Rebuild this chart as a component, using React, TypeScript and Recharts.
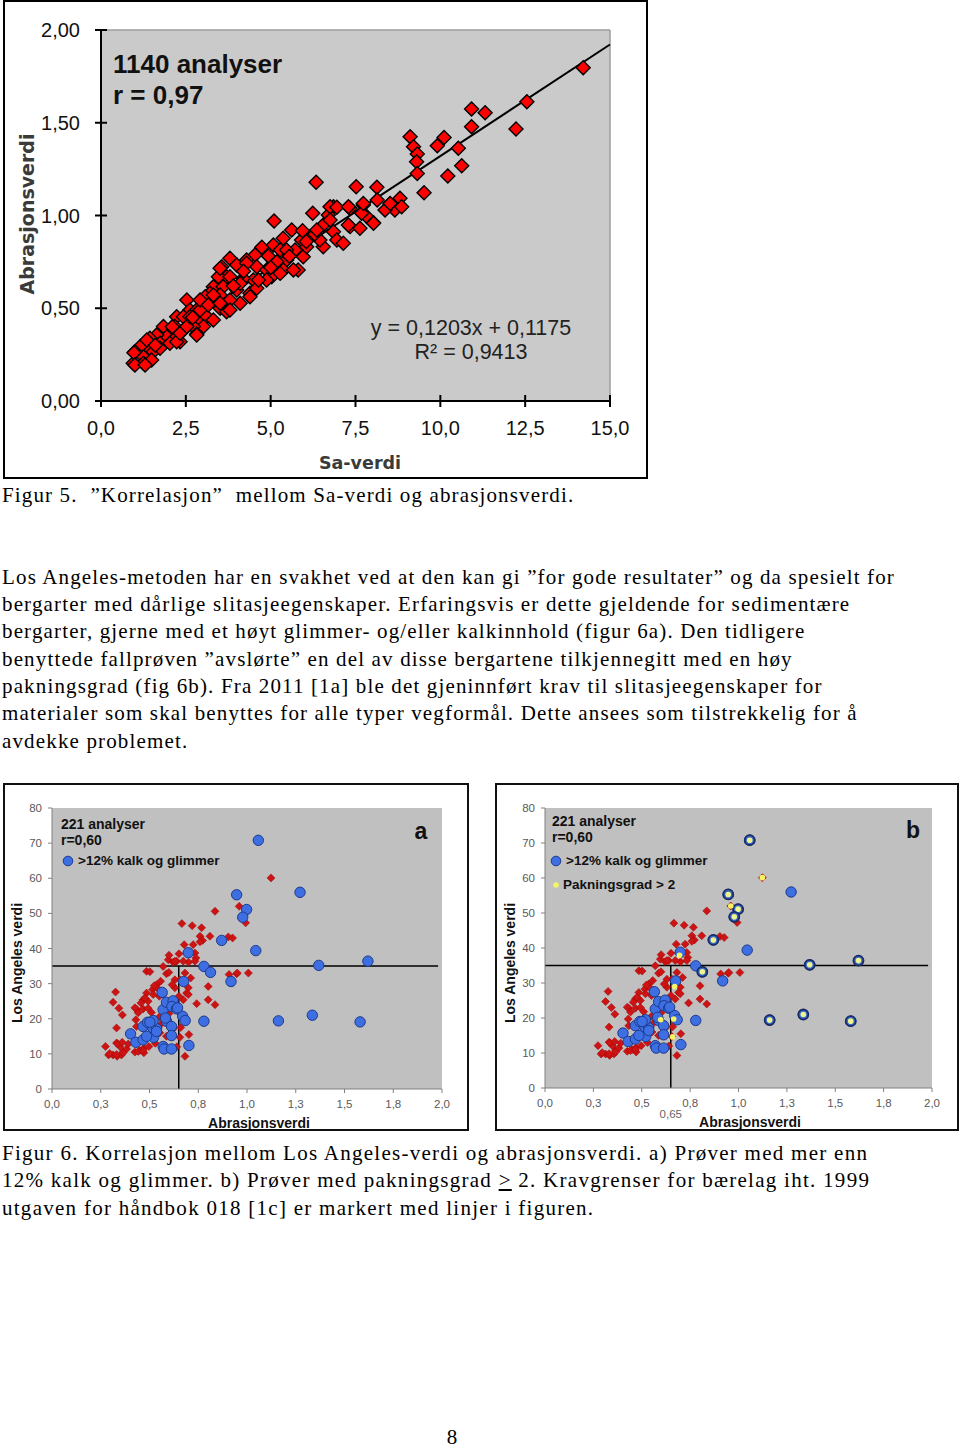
import React from 'react';
import { ScatterChart, Scatter, XAxis, YAxis, CartesianGrid, ReferenceLine } from 'recharts';

// ---------- Figure 5 data: Sa-verdi (x) vs abrasjonsverdi (y) ----------
const saAbrHigh: [number, number][] = [
  [14.21, 1.797], [12.55, 1.613], [12.23, 1.466], [10.92, 1.574], [11.32, 1.554], [10.92, 1.479],
  [10.53, 1.362], [10.63, 1.268], [10.22, 1.213], [9.91, 1.376], [10.11, 1.421], [9.11, 1.425],
  [9.21, 1.371], [9.32, 1.332], [9.3, 1.29], [9.32, 1.227], [9.52, 1.123], [8.81, 1.093],
  [8.13, 1.152], [7.52, 1.155], [8.14, 1.084], [8.52, 1.062], [8.66, 1.03], [8.86, 1.047],
  [8.37, 1.03], [7.73, 1.057], [7.83, 0.994], [8.03, 0.961], [7.68, 1.012], [7.34, 1.039],
  [6.85, 1.047], [6.7, 1.003], [7.34, 0.94], [7.63, 0.931], [6.55, 0.949], [6.85, 0.913],
  [6.34, 1.179], [5.1, 0.97], [6.24, 1.012], [5.62, 0.922], [5.94, 0.918], [6.75, 1.047],
  [6.95, 1.044], [7.29, 1.047], [7.29, 0.949], [6.75, 0.976], [6.36, 0.922], [6.95, 0.868],
  [7.14, 0.85], [7.73, 1.065], [8.52, 1.065], [8.03, 0.958],
];
const saAbrMid: [number, number][] = [
  [5.37, 0.877], [5.91, 0.868], [6.16, 0.886], [6.55, 0.832], [4.74, 0.829], [5.08, 0.841],
  [5.28, 0.814], [5.72, 0.814], [5.96, 0.778], [5.47, 0.76], [5.18, 0.751], [4.93, 0.782],
  [4.54, 0.787], [4.29, 0.76], [3.8, 0.769], [3.56, 0.724], [4.0, 0.733], [4.59, 0.724],
  [4.88, 0.706], [5.37, 0.706], [5.81, 0.706], [5.03, 0.67], [4.49, 0.652], [4.19, 0.661],
  [3.7, 0.67], [3.46, 0.67], [3.31, 0.616], [3.6, 0.616], [4.0, 0.598], [4.39, 0.581],
  [4.59, 0.608], [4.1, 0.527], [3.8, 0.544], [3.51, 0.571], [3.21, 0.581], [3.07, 0.562],
  [2.92, 0.544], [3.16, 0.517], [3.51, 0.5], [3.7, 0.481], [3.8, 0.491], [3.51, 0.527],
  [3.31, 0.571], [4.39, 0.562], [3.8, 0.67], [3.51, 0.715], [4.29, 0.742], [4.88, 0.652],
  [5.28, 0.688], [5.67, 0.706], [5.47, 0.814], [6.06, 0.832], [6.45, 0.868], [4.64, 0.652],
  [4.1, 0.634], [5.0, 0.72], [5.55, 0.78], [6.05, 0.86], [6.3, 0.9], [4.2, 0.7], [3.9, 0.62],
];
const saAbrLow: [number, number][] = [
  [2.53, 0.544], [2.62, 0.491], [2.82, 0.491], [2.23, 0.454], [2.43, 0.454], [2.82, 0.437],
  [3.12, 0.454], [3.31, 0.437], [3.02, 0.401], [2.72, 0.401], [2.43, 0.383], [2.03, 0.383],
  [1.84, 0.401], [1.94, 0.347], [2.23, 0.347], [2.33, 0.32], [2.82, 0.361], [1.64, 0.356],
  [1.44, 0.338], [1.74, 0.311], [1.35, 0.284], [1.15, 0.293], [1.54, 0.266], [1.25, 0.239],
  [1.0, 0.266], [0.95, 0.203], [1.25, 0.203], [1.49, 0.221], [2.03, 0.311], [2.18, 0.401],
  [0.97, 0.26], [1.0, 0.194], [1.3, 0.194], [1.35, 0.329], [1.74, 0.284], [2.23, 0.32],
  [2.33, 0.365], [2.82, 0.356], [2.53, 0.401], [2.92, 0.491], [2.62, 0.454], [2.7, 0.45],
  [2.1, 0.4], [1.6, 0.3],
];
const trendEnds = [{ x: 1.0, y: 0.238 }, { x: 15, y: 1.922 }];
const topXTicks = [0, 2.5, 5, 7.5, 10, 12.5, 15];
const topXLabels = ['0,0', '2,5', '5,0', '7,5', '10,0', '12,5', '15,0'];
const topYTicks = [0, 0.5, 1, 1.5, 2];
const topYLabels = ['0,00', '0,50', '1,00', '1,50', '2,00'];

// ---------- Figure 6 data: abrasjonsverdi (x) vs Los Angeles verdi (y) ----------
const laRed: [number, number][] = [
  [0.274, 12.1], [0.29, 9.7], [0.313, 9.7], [0.334, 9.3], [0.356, 9.7], [0.365, 10.7], [0.331, 13.1],
  [0.348, 12.1], [0.326, 27.6], [0.313, 24.7], [0.343, 23.0], [0.361, 21.1], [0.331, 17.4], [0.382, 11.4],
  [0.391, 12.8], [0.433, 22.8], [0.43, 19.7], [0.433, 17.8], [0.425, 10.5], [0.45, 11.0], [0.471, 11.6],
  [0.471, 10.3], [0.497, 12.1], [0.485, 33.5], [0.502, 33.4], [0.485, 27.3], [0.467, 25.4], [0.493, 25.0],
  [0.467, 22.8], [0.493, 23.0], [0.51, 21.8], [0.516, 28.3], [0.536, 29.7], [0.545, 28.5], [0.55, 26.4],
  [0.557, 30.7], [0.57, 34.9], [0.587, 32.8], [0.596, 36.8], [0.6, 38.1], [0.621, 36.1], [0.639, 36.4],
  [0.651, 38.5], [0.666, 47.1], [0.678, 41.1], [0.69, 38.7], [0.7, 36.1], [0.719, 46.5], [0.733, 38.7],
  [0.738, 37.3], [0.724, 41.1], [0.759, 43.5], [0.772, 42.3], [0.767, 45.9], [0.81, 43.5], [0.836, 50.6],
  [0.711, 31.6], [0.699, 28.8], [0.69, 27.3], [0.673, 25.4], [0.651, 26.4], [0.63, 28.8], [0.656, 31.1],
  [0.682, 33.0], [0.742, 24.3], [0.801, 29.2], [0.801, 25.4], [0.836, 24.0], [0.702, 15.5], [0.682, 9.3],
  [0.656, 14.7], [0.904, 43.3], [0.947, 32.8], [1.123, 60.1], [0.96, 52.0], [0.993, 47.3], [0.926, 43.0],
  [0.95, 33.0], [1.007, 33.0], [0.759, 41.9], [0.63, 36.4], [0.673, 36.4], [0.733, 36.4], [0.599, 33.2],
  [0.63, 31.1], [0.616, 29.7], [0.524, 29.4], [0.57, 26.9], [0.519, 26.9], [0.699, 26.9], [0.425, 23.1],
  [0.456, 24.5], [0.476, 25.9], [0.442, 21.7], [0.296, 10.1], [0.331, 9.8], [0.365, 10.3], [0.336, 12.9],
  [0.36, 13.3], [0.442, 10.7], [0.467, 11.0], [0.408, 16.0], [0.553, 16.0], [0.587, 15.0], [0.908, 32.6],
  [0.55, 20.5], [0.6, 21.5], [0.62, 17.0], [0.53, 13.0], [0.56, 18.5], [0.65, 22.0], [0.64, 12.0], [0.66, 17.5],
];
const laBlue: [number, number][] = [
  [1.058, 70.8], [0.947, 55.3], [1.272, 56.0], [0.998, 51.1], [0.978, 48.9], [1.045, 39.4], [1.368, 35.2],
  [1.62, 36.4], [0.918, 30.6], [1.161, 19.4], [1.335, 21.0], [1.58, 19.1], [0.87, 42.3], [0.699, 38.8],
  [0.779, 34.9], [0.813, 33.2], [0.675, 30.6], [0.565, 27.5], [0.779, 19.3], [0.702, 12.4], [0.403, 15.7],
  [0.43, 13.3], [0.467, 17.8], [0.49, 19.0], [0.467, 14.0], [0.517, 17.4], [0.536, 17.2], [0.521, 14.7],
  [0.57, 22.6], [0.587, 24.7], [0.621, 25.1], [0.615, 23.5], [0.639, 22.8], [0.587, 19.3], [0.613, 17.8],
  [0.613, 15.2], [0.57, 12.1], [0.575, 11.4], [0.613, 11.4], [0.67, 20.7], [0.683, 19.5], [0.519, 19.5],
  [0.485, 15.0], [0.644, 23.1], [0.582, 20.2], [0.502, 19.0], [0.536, 16.4],
];
const pakRing: [number, number][] = [
  [1.058, 70.8], [0.947, 55.3], [0.998, 51.1], [0.978, 48.9], [1.368, 35.2], [1.62, 36.4],
  [1.161, 19.4], [1.335, 21.0], [1.58, 19.1], [0.87, 42.3], [0.813, 33.2],
];
const pakDot: [number, number][] = [
  [1.123, 60.1], [0.96, 52.0], [0.695, 37.9], [0.67, 29.0], [0.598, 19.5], [0.665, 19.7], [0.66, 14.6],
];
const limitH = [{ x: 0, y: 35 }, { x: 1.98, y: 35 }];
const limitV = [{ x: 0.65, y: 0 }, { x: 0.65, y: 35 }];
const laXTicks = [0, 0.25, 0.5, 0.75, 1, 1.25, 1.5, 1.75, 2];
const laXLabels = ['0,0', '0,3', '0,5', '0,8', '1,0', '1,3', '1,5', '1,8', '2,0'];
const laYTicks = [0, 10, 20, 30, 40, 50, 60, 70, 80];
const laYLabels = ['0', '10', '20', '30', '40', '50', '60', '70', '80'];
const extraTickValue = 0.65;
const extraTickLabel = '0,65';

const toXY = (a: [number, number][]) => a.map(([x, y]) => ({ x, y }));
const SANS = '"Liberation Sans", Arial, sans-serif';
const SERIF = '"Liberation Serif", "Times New Roman", serif';

// ---------- shapes ----------
const TopDiamond = (p: any) => {
  const { cx, cy } = p;
  if (cx == null || cy == null) return <g />;
  const r = 7;
  return <polygon points={`${cx},${cy - r} ${cx + r},${cy} ${cx},${cy + r} ${cx - r},${cy}`} fill="#ff0000" stroke="#000" strokeWidth={1.4} />;
};
const RedDiamond = (p: any) => {
  const { cx, cy } = p;
  if (cx == null || cy == null) return <g />;
  const r = 4;
  return <polygon points={`${cx},${cy - r} ${cx + r},${cy} ${cx},${cy + r} ${cx - r},${cy}`} fill="#cc1414" stroke="#a00000" strokeWidth={0.5} />;
};
const BlueCircle = (p: any) => {
  const { cx, cy } = p;
  if (cx == null || cy == null) return <g />;
  return <circle cx={cx} cy={cy} r={5.2} fill="#3e6fe2" stroke="#1d3a8c" strokeWidth={1} />;
};
const YellowRing = (p: any) => {
  const { cx, cy } = p;
  if (cx == null || cy == null) return <g />;
  return (
    <g>
      <circle cx={cx} cy={cy} r={5.0} fill="#3a68c8" stroke="#1c2c66" strokeWidth={1.8} />
      <circle cx={cx} cy={cy} r={2.8} fill="#eef58c" />
    </g>
  );
};
const YellowDot = (p: any) => {
  const { cx, cy } = p;
  if (cx == null || cy == null) return <g />;
  return <circle cx={cx} cy={cy} r={2.8} fill="#f4f466" />;
};

// ---------- ticks ----------
const TopXTick = (p: any) => {
  const { x, y, payload } = p;
  const i = topXTicks.indexOf(payload.value);
  return (
    <g>
      <line x1={x} x2={x} y1={y - 6} y2={y + 6} stroke="#000" strokeWidth={2} />
      <text x={x} y={y + 27} textAnchor="middle" dominantBaseline="central" fontSize={20} fontFamily={SANS} fill="#111">{topXLabels[i]}</text>
    </g>
  );
};
const TopYTick = (p: any) => {
  const { x, y, payload } = p;
  const i = topYTicks.indexOf(payload.value);
  return (
    <g>
      <line x1={x - 6} x2={x + 6} y1={y} y2={y} stroke="#000" strokeWidth={2} />
      <text x={x - 21} y={y} textAnchor="end" dominantBaseline="central" fontSize={20} fontFamily={SANS} fill="#111">{topYLabels[i]}</text>
    </g>
  );
};
const LAXTick = (p: any) => {
  const { x, y, payload } = p;
  if (payload.value === extraTickValue) {
    return <text x={x} y={y + 26} textAnchor="middle" dominantBaseline="central" fontSize={11.5} fontFamily={SANS} fill="#666">{extraTickLabel}</text>;
  }
  const i = laXTicks.indexOf(payload.value);
  return (
    <g>
      <line x1={x} x2={x} y1={y} y2={y + 4} stroke="#808080" />
      <text x={x} y={y + 15} textAnchor="middle" dominantBaseline="central" fontSize={11.5} fontFamily={SANS} fill="#5a5a5a">{laXLabels[i]}</text>
    </g>
  );
};
const LAYTick = (p: any) => {
  const { x, y, payload } = p;
  const i = laYTicks.indexOf(payload.value);
  return (
    <g>
      <line x1={x - 4} x2={x} y1={y} y2={y} stroke="#808080" />
      <text x={x - 10} y={y} textAnchor="end" dominantBaseline="central" fontSize={11.5} fontFamily={SANS} fill="#5a5a5a">{laYLabels[i]}</text>
    </g>
  );
};

// ---------- text helper ----------
const T = ({ x, y, children, style, center }: any) => (
  <div style={{ position: 'absolute', left: x, top: y - 12, height: 24, lineHeight: '24px', whiteSpace: 'pre', transform: center ? 'translateX(-50%)' : undefined, ...style }}>{children}</div>
);

function TopChart() {
  return (
    <>
      <div style={{ position: 'absolute', left: 3, top: 0, width: 645, height: 479, border: '2px solid #000', boxSizing: 'border-box', background: '#fff' }} />
      <div style={{ position: 'absolute', left: 4, top: 0 }}>
        <ScatterChart width={642} height={479} margin={{ top: 30, right: 36, bottom: 0, left: 0 }}>
          <CartesianGrid horizontal={false} vertical={false} fill="#cacaca" fillOpacity={1} stroke="none" />
          <ReferenceLine y={2} stroke="#9c9c9c" strokeWidth={1.5} />
          <ReferenceLine x={15} stroke="#9c9c9c" strokeWidth={1.5} />
          <XAxis type="number" dataKey="x" domain={[0, 15]} ticks={topXTicks} interval={0} tickSize={0} tickMargin={0} tickLine={false} axisLine={{ stroke: '#000', strokeWidth: 2 }} tick={TopXTick} height={78} allowDataOverflow />
          <YAxis type="number" dataKey="y" domain={[0, 2]} ticks={topYTicks} interval={0} tickSize={0} tickMargin={0} tickLine={false} axisLine={{ stroke: '#000', strokeWidth: 2 }} tick={TopYTick} width={97} allowDataOverflow />
          <Scatter data={toXY(saAbrLow)} shape={TopDiamond} isAnimationActive={false} />
          <Scatter data={toXY(saAbrMid)} shape={TopDiamond} isAnimationActive={false} />
          <Scatter data={toXY(saAbrHigh)} shape={TopDiamond} isAnimationActive={false} />
          <ReferenceLine segment={trendEnds} stroke="#000" strokeWidth={2} />
        </ScatterChart>
      </div>
      <T x={113} y={64} style={{ fontFamily: SANS, fontWeight: 700, fontSize: 26, color: '#111' }}>1140 analyser</T>
      <T x={113} y={95} style={{ fontFamily: SANS, fontWeight: 700, fontSize: 26, color: '#111' }}>r = 0,97</T>
      <T x={471} y={328} center style={{ fontFamily: SANS, fontSize: 21.5, color: '#222' }}>y = 0,1203x + 0,1175</T>
      <T x={471} y={352} center style={{ fontFamily: SANS, fontSize: 21.5, color: '#222' }}>R² = 0,9413</T>
      <div style={{ position: 'absolute', left: 27, top: 214, transform: 'translate(-50%,-50%) rotate(-90deg)', whiteSpace: 'nowrap', fontFamily: '"DejaVu Sans", Verdana, sans-serif', fontWeight: 700, fontSize: 19, color: '#3a3a3a', lineHeight: '22px' }}>Abrasjonsverdi</div>
      <T x={360} y={463} center style={{ fontFamily: '"DejaVu Sans", Verdana, sans-serif', fontWeight: 700, fontSize: 17.5, color: '#3a3a3a' }}>Sa-verdi</T>
    </>
  );
}

function LAChart({ left, width, xAxisH, withPak }: any) {
  const ticks = withPak ? [...laXTicks, extraTickValue] : laXTicks;
  return (
    <div style={{ position: 'absolute', left, top: 783 }}>
      <ScatterChart width={width} height={348} margin={{ top: 25, right: 25, bottom: 0, left: 0 }}>
        <CartesianGrid horizontal={false} vertical={false} fill="#c0c0c0" fillOpacity={1} stroke="none" />
        <XAxis type="number" dataKey="x" domain={[0, 2]} ticks={ticks} interval={0} tickSize={0} tickMargin={0} tickLine={false} axisLine={{ stroke: '#808080' }} tick={LAXTick} height={xAxisH} allowDataOverflow />
        <YAxis type="number" dataKey="y" domain={[0, 80]} ticks={laYTicks} interval={0} tickSize={0} tickMargin={0} tickLine={false} axisLine={{ stroke: '#808080' }} tick={LAYTick} width={48} allowDataOverflow />
        <Scatter data={toXY(laRed)} shape={RedDiamond} isAnimationActive={false} />
        <Scatter data={toXY(laBlue)} shape={BlueCircle} isAnimationActive={false} />
        {withPak && <Scatter data={toXY(pakRing)} shape={YellowRing} isAnimationActive={false} />}
        {withPak && <Scatter data={toXY(pakDot)} shape={YellowDot} isAnimationActive={false} />}
        <ReferenceLine segment={limitH} stroke="#000" strokeWidth={1.5} />
        <ReferenceLine segment={limitV} stroke="#000" strokeWidth={1.5} />
      </ScatterChart>
    </div>
  );
}

const lblStyle = { fontFamily: SANS, fontWeight: 700, fontSize: 14, color: '#111' };
const titleStyle = { fontFamily: SANS, fontWeight: 700, fontSize: 14, color: '#111' };

function Fig6() {
  return (
    <>
      <div style={{ position: 'absolute', left: 3, top: 783, width: 466, height: 348, border: '2px solid #111', boxSizing: 'border-box', background: '#fff' }} />
      <div style={{ position: 'absolute', left: 495, top: 783, width: 464, height: 348, border: '2px solid #111', boxSizing: 'border-box', background: '#fff' }} />
      <LAChart left={4} width={463} xAxisH={42} withPak={false} />
      <LAChart left={497} width={460} xAxisH={43} withPak={true} />
      {/* chart a texts */}
      <T x={61} y={824} style={lblStyle}>221 analyser</T>
      <T x={61} y={840} style={lblStyle}>r=0,60</T>
      <svg style={{ position: 'absolute', left: 62, top: 855 }} width={12} height={12}><circle cx={6} cy={6} r={4.8} fill="#3e6fe2" stroke="#1d3a8c" /></svg>
      <T x={78} y={861} style={{ ...lblStyle, fontSize: 13.5 }}>&gt;12% kalk og glimmer</T>
      <T x={421} y={831} center style={{ fontFamily: SANS, fontWeight: 700, fontSize: 23, color: '#111' }}>a</T>
      <T x={259} y={1123} center style={titleStyle}>Abrasjonsverdi</T>
      <div style={{ position: 'absolute', left: 17, top: 963, transform: 'translate(-50%,-50%) rotate(-90deg)', whiteSpace: 'nowrap', lineHeight: '18px', ...titleStyle }}>Los Angeles verdi</div>
      {/* chart b texts */}
      <T x={552} y={821} style={lblStyle}>221 analyser</T>
      <T x={552} y={837} style={lblStyle}>r=0,60</T>
      <svg style={{ position: 'absolute', left: 550, top: 855 }} width={12} height={12}><circle cx={6} cy={6} r={4.8} fill="#3e6fe2" stroke="#1d3a8c" /></svg>
      <T x={566} y={861} style={{ ...lblStyle, fontSize: 13.5 }}>&gt;12% kalk og glimmer</T>
      <svg style={{ position: 'absolute', left: 550, top: 879 }} width={12} height={12}><circle cx={6} cy={6} r={2.8} fill="#f4f466" /></svg>
      <T x={563} y={885} style={{ ...lblStyle, fontSize: 13.5 }}>Pakningsgrad &gt; 2</T>
      <T x={913} y={830} center style={{ fontFamily: SANS, fontWeight: 700, fontSize: 23, color: '#111' }}>b</T>
      <T x={750} y={1122} center style={titleStyle}>Abrasjonsverdi</T>
      <div style={{ position: 'absolute', left: 510, top: 963, transform: 'translate(-50%,-50%) rotate(-90deg)', whiteSpace: 'nowrap', lineHeight: '18px', ...titleStyle }}>Los Angeles verdi</div>
    </>
  );
}

const bodyLines = [
  'Los Angeles-metoden har en svakhet ved at den kan gi ”for gode resultater” og da spesielt for',
  'bergarter med dårlige slitasjeegenskaper. Erfaringsvis er dette gjeldende for sedimentære',
  'bergarter, gjerne med et høyt glimmer- og/eller kalkinnhold (figur 6a). Den tidligere',
  'benyttede fallprøven ”avslørte” en del av disse bergartene tilkjennegitt med en høy',
  'pakningsgrad (fig 6b). Fra 2011 [1a] ble det gjeninnført krav til slitasjeegenskaper for',
  'materialer som skal benyttes for alle typer vegformål. Dette ansees som tilstrekkelig for å',
  'avdekke problemet.',
];

export default function App() {
  const serif = { fontFamily: SERIF, fontSize: 21, color: '#000' };
  return (
    <div style={{ position: 'absolute', left: 0, top: 0, width: 960, height: 1448, background: '#fff', overflow: 'hidden' }}>
      <TopChart />
      <T x={2} y={495} style={{ ...serif, letterSpacing: 1.14 }}>Figur 5.  ”Korrelasjon”  mellom Sa-verdi og abrasjonsverdi.</T>
      <div style={{ position: 'absolute', left: 2, top: 563.5, lineHeight: '27.4px', ...serif, letterSpacing: 1.15 }}>
        {bodyLines.map((l, i) => <div key={i} style={{ whiteSpace: 'pre', height: 27.4 }}>{l}</div>)}
      </div>
      <Fig6 />
      <div style={{ position: 'absolute', left: 2, top: 1139.5, lineHeight: '27.5px', ...serif, letterSpacing: 1.27 }}>
        <div style={{ whiteSpace: 'pre' }}>Figur 6. Korrelasjon mellom Los Angeles-verdi og abrasjonsverdi. a) Prøver med mer enn</div>
        <div style={{ whiteSpace: 'pre' }}>12% kalk og glimmer. b) Prøver med pakningsgrad <u>&gt;</u> 2. Kravgrenser for bærelag iht. 1999</div>
        <div style={{ whiteSpace: 'pre' }}>utgaven for håndbok 018 [1c] er markert med linjer i figuren.</div>
      </div>
      <T x={452} y={1437} center style={serif}>8</T>
    </div>
  );
}
